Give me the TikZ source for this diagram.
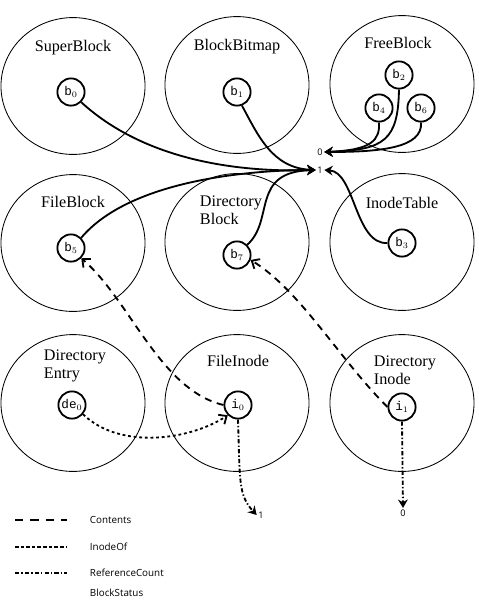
\documentclass[tikz,border=0pt]{standalone}
\usepackage{fontspec}
\setmainfont{Liberation Serif}
\setmonofont{Liberation Mono}
\setsansfont{Open Sans}
\usetikzlibrary{shapes.geometric,arrows.meta}
\begin{document}
\begin{tikzpicture}[x=0.025cm, y=-0.025cm,
    region/.style={draw, ellipse, line width=0.6pt, minimum width=3.6cm, minimum height=3.42cm, inner sep=0pt},
    elem/.style={draw, circle, line width=1.3pt, minimum size=0.68cm, inner sep=0pt, font=\ttfamily\small},
    title/.style={font=\fontsize{11.5}{12.5}\selectfont, align=left},
    val/.style={font=\sffamily\fontsize{6.5}{7}\selectfont, inner sep=1pt},
    status/.style={line width=1.3pt, -{Stealth[length=6pt,width=7pt]}},
    contents/.style={line width=1.3pt, dash pattern=on 5pt off 4pt, -{Straight Barb[length=4.5pt,width=8pt,line width=1.3pt]}},
    inodeof/.style={line width=1.3pt, dash pattern=on 2pt off 2pt, -{Straight Barb[length=4.5pt,width=8pt,line width=1.3pt]}},
    refcount/.style={line width=1.3pt, dash pattern=on 3pt off 1.5pt on 1pt off 1.5pt, -{Stealth[length=6pt,width=7pt]}},
    key/.style={font=\sffamily\fontsize{7}{8}\selectfont, anchor=west}]
    \useasboundingbox (0,0) rectangle (479,600);
    \node[region] (sb) at (73,86) {};
    \node[region] (bb) at (237,85) {};
    \node[region] (fb) at (402,84) {};
    \node[region] (fileb) at (73,243) {};
    \node[region] (dirb) at (237,242) {};
    \node[region] (it) at (402,242) {};
    \node[region] (de) at (73,403) {};
    \node[region] (fi) at (237,403) {};
    \node[region] (di) at (402,403) {};
    \node[title] at (73,48) {SuperBlock};
    \node[title] at (237,47) {BlockBitmap};
    \node[title] at (398,43) {FreeBlock};
    \node[title] at (73,202) {FileBlock};
    \node[title, anchor=west] at (195,210) {Directory\\Block};
    \node[title] at (402,203) {InodeTable};
    \node[title, anchor=west] at (39,366) {Directory\\Entry};
    \node[title] at (238,361) {FileInode};
    \node[title, anchor=west] at (369,370) {Directory\\Inode};
    \node[elem] (b0) at (71,92) {b$_0$};
    \node[elem] (b1) at (237,92) {b$_1$};
    \node[elem] (b2) at (399,75) {b$_2$};
    \node[elem] (b4) at (379,108) {b$_4$};
    \node[elem] (b6) at (421,108) {b$_6$};
    \node[elem] (b5) at (71,248) {b$_5$};
    \node[elem] (b7) at (237,255) {b$_7$};
    \node[elem] (b3) at (402,243) {b$_3$};
    \node[elem] (de0) at (72,405) {de$_0$};
    \node[elem] (i0) at (238,405) {i$_0$};
    \node[elem] (i1) at (402,407) {i$_1$};
    \node[val] (zero) at (320,152) {0};
    \node[val] (one) at (320,170) {1};
    \node[val] (oneb) at (261,515) {1};
    \node[val] (zerob) at (403,513) {0};
    \draw[status] (b0.-45) .. controls (150,165) and (250,172) .. (one.west);
    \draw[status] (b1.-70) .. controls (258,135) and (272,168) .. (one.west);
    \draw[status] (b5.45) .. controls (130,180) and (250,170) .. (one.west);
    \draw[status] (b7.45) .. controls (275,220) and (250,172) .. (one.west);
    \draw[status] (b3.west) .. controls (355,245) and (355,172) .. (one.east);
    \draw[status] (b2.south) .. controls (398,140) and (385,150) .. (zero.east);
    \draw[status] (b4.south) .. controls (380,140) and (372,150) .. (zero.east);
    \draw[status] (b6.south) .. controls (423,148) and (380,152) .. (zero.east);
    \draw[contents] (i0.west) .. controls (160,390) and (130,300) .. (b5.-45);
    \draw[contents] (i1.west) .. controls (340,360) and (300,290) .. (b7.-20);
    \draw[inodeof] (de0.-40) .. controls (120,450) and (190,440) .. (i0.-135);
    \draw[refcount] (i0.south) .. controls (240,480) and (238,495) .. (oneb.west);
    \draw[refcount] (i1.south) -- (zerob.north);
    \coordinate (k1a) at (15,520); \coordinate (k1b) at (67,520);
    \coordinate (k2a) at (15,547); \coordinate (k2b) at (67,547);
    \coordinate (k3a) at (15,573); \coordinate (k3b) at (67,573);
    \draw[line width=1.2pt, dash pattern=on 6pt off 5pt] (k1a) -- (k1b);
    \draw[line width=1.2pt, dash pattern=on 2.5pt off 1.5pt] (k2a) -- (k2b);
    \draw[line width=1.2pt, dash pattern=on 3pt off 1.5pt on 1pt off 1.5pt] (k3a) -- (k3b);
    \node[key] at (85,520) {Contents};
    \node[key] at (85,547) {InodeOf};
    \node[key] at (85,573) {ReferenceCount};
    \node[key] at (85,593) {BlockStatus};
\end{tikzpicture}
\end{document}
